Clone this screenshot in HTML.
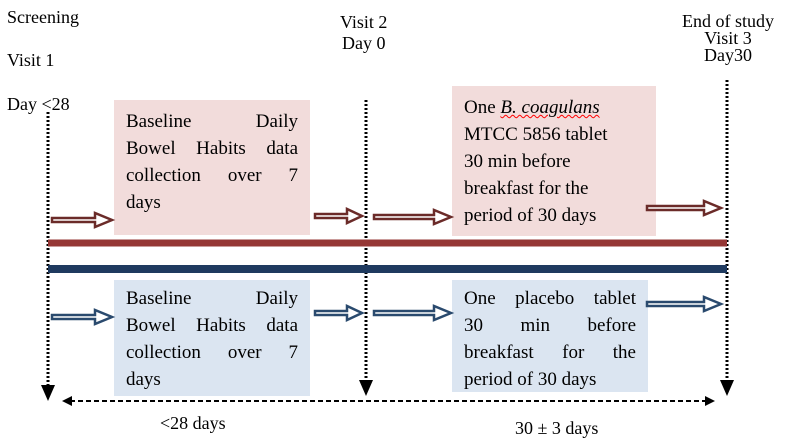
<!DOCTYPE html>
<html><head><meta charset="utf-8"><style>
body{margin:0;width:799px;height:443px;background:#fff;position:relative;overflow:hidden;font-family:"Liberation Serif",serif;color:#000}
.t{position:absolute;font-size:18px;white-space:nowrap;line-height:20px}
.box{position:absolute;font-size:19px;line-height:27px;box-sizing:border-box;padding:8px 12px 0 12px}
.box .j{text-align:justify;text-align-last:justify;white-space:nowrap}
.pink{background:#f2dcdb}.blue{background:#dbe5f1}
svg{position:absolute;left:0;top:0}
</style></head><body>
<div class="box pink" style="left:114px;top:100px;width:196px;height:135px"><div class="j">Baseline Daily</div><div class="j">Bowel Habits data</div><div class="j">collection over 7</div><div>days</div></div>
<div class="box blue" style="left:114px;top:280px;width:196px;height:116px;padding-top:5px"><div class="j">Baseline Daily</div><div class="j">Bowel Habits data</div><div class="j">collection over 7</div><div>days</div></div>
<div class="box pink" style="left:452px;top:86px;width:204px;height:150px;white-space:nowrap">One <i style="text-decoration:underline wavy red 1px">B. coagulans</i><br>MTCC 5856 tablet<br>30 min before<br>breakfast for the<br>period of 30 days</div>
<div class="box blue" style="left:452px;top:280px;width:196px;height:112px;padding-top:5px"><div class="j">One placebo tablet</div><div class="j">30 min before</div><div class="j">breakfast for the</div><div>period of 30 days</div></div>
<svg width="799" height="443">
<g stroke="#000" stroke-width="3" stroke-dasharray="2,2">
<line x1="48" y1="112" x2="48" y2="385"/>
<line x1="366" y1="100" x2="366" y2="380"/>
<line x1="727" y1="80" x2="727" y2="380"/>
</g>
<path d="M41,385 L55,385 L48,401 Z"/>
<path d="M359,380 L373,380 L366,396 Z"/>
<path d="M720,380 L734,380 L727,396 Z"/>
<line x1="48" y1="243" x2="727" y2="243" stroke="#953735" stroke-width="7"/>
<line x1="48" y1="269" x2="727" y2="269" stroke="#1f3a5f" stroke-width="8"/>
<line x1="70" y1="401" x2="706" y2="401" stroke="#000" stroke-width="2" stroke-dasharray="5,3"/>
<path d="M62,401 L72,396 L72,406 Z"/>
<path d="M715,401 L705,396 L705,406 Z"/>
<g fill="#fff" stroke="#6b2b29" stroke-width="2.5">
<path d="M52,218 h43 v-5 l17,7 l-17,7 v-5 h-43 Z"/>
<path d="M315,214 h32 v-5 l15,7 l-15,7 v-5 h-32 Z"/>
<path d="M374,215 h60 v-5 l17,7 l-17,7 v-5 h-60 Z"/>
<path d="M647,206 h57 v-5 l17,7 l-17,7 v-5 h-57 Z"/>
</g>
<g fill="#fff" stroke="#2a4a6e" stroke-width="2.5">
<path d="M52,315 h43 v-5 l17,7 l-17,7 v-5 h-43 Z"/>
<path d="M315,311 h32 v-5 l15,7 l-15,7 v-5 h-32 Z"/>
<path d="M374,311 h60 v-5 l17,7 l-17,7 v-5 h-60 Z"/>
<path d="M647,302 h57 v-5 l17,7 l-17,7 v-5 h-57 Z"/>
</g>
</svg>
<div class="t" style="left:7px;top:7px">Screening</div>
<div class="t" style="left:7px;top:50px">Visit 1</div>
<div class="t" style="left:7px;top:94px">Day &lt;28</div>
<div class="t" style="left:340px;top:12px">Visit 2</div>
<div class="t" style="left:342px;top:33px">Day 0</div>
<div class="t" style="left:682px;top:13px;line-height:17px;text-align:center">End of study<br>Visit 3<br>Day30</div>
<div class="t" style="left:160px;top:413px">&lt;28 days</div>
<div class="t" style="left:515px;top:418px">30 ± 3 days</div>
</body></html>
